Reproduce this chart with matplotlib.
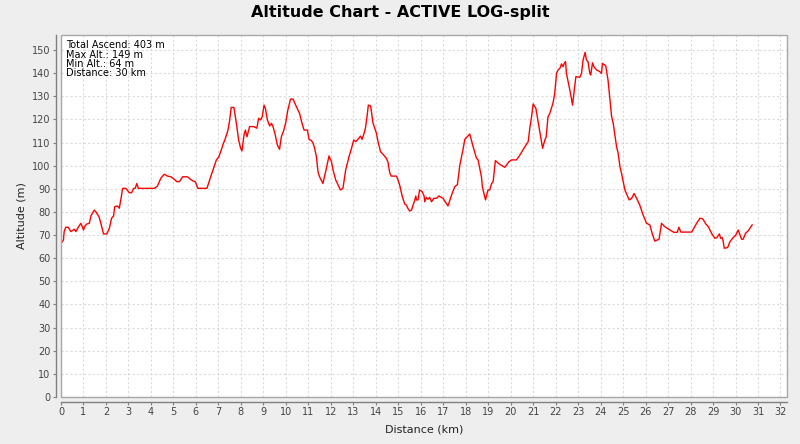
import matplotlib
matplotlib.use('Agg')
import matplotlib.pyplot as plt
from matplotlib.patches import Rectangle
import numpy as np

# profile (km, m)
dist = [0.00, 0.11, 0.14, 0.21, 0.32, 0.44, 0.59, 0.66, 0.77, 0.88, 0.96, 1.00, 1.06, 1.15, 1.26,
        1.33, 1.48, 1.55, 1.70, 1.80, 1.89, 2.04, 2.15, 2.25, 2.34, 2.39, 2.51, 2.59, 2.66, 2.74,
        2.88, 3.04, 3.14, 3.23, 3.30, 3.37, 3.44, 4.15, 4.29, 4.44, 4.59, 4.74, 4.89, 5.04, 5.15,
        5.27, 5.41, 5.62, 5.76, 5.87, 5.97, 6.09, 6.49, 6.61, 6.76, 6.91, 7.01, 7.13, 7.20, 7.31,
        7.42, 7.50, 7.57, 7.69, 7.80, 7.90, 7.99, 8.05, 8.14, 8.20, 8.27, 8.39, 8.58, 8.71, 8.79,
        8.88, 8.95, 9.03, 9.09, 9.18, 9.28, 9.36, 9.43, 9.53, 9.62, 9.72, 9.80, 9.90, 9.99, 10.09,
        10.21, 10.32, 10.47, 10.61, 10.72, 10.81, 10.96, 11.03, 11.13, 11.21, 11.28, 11.36, 11.43,
        11.50, 11.65, 11.77, 11.92, 12.03, 12.10, 12.22, 12.32, 12.43, 12.54, 12.66, 12.81, 12.92,
        13.02, 13.11, 13.21, 13.32, 13.39, 13.48, 13.54, 13.61, 13.67, 13.77, 13.88, 14.03, 14.10,
        14.21, 14.35, 14.47, 14.54, 14.62, 14.69, 14.92, 14.99, 15.06, 15.18, 15.29, 15.36, 15.43,
        15.51, 15.59, 15.66, 15.73, 15.78, 15.81, 15.88, 15.95, 16.06, 16.15, 16.18, 16.25, 16.32,
        16.40, 16.48, 16.58, 16.70, 16.81, 16.99, 17.21, 17.37, 17.51, 17.63, 17.74, 17.88, 17.96,
        18.18, 18.33, 18.48, 18.55, 18.70, 18.74, 18.88, 18.99, 19.07, 19.15, 19.22, 19.32, 19.51,
        19.74, 19.92, 20.04, 20.26, 20.41, 20.63, 20.78, 20.85, 20.93, 21.00, 21.12, 21.22, 21.33,
        21.42, 21.52, 21.58, 21.66, 21.74, 21.81, 21.88, 21.96, 22.04, 22.11, 22.19, 22.26, 22.33,
        22.38, 22.44, 22.48, 22.60, 22.70, 22.75, 22.85, 22.90, 23.07, 23.15, 23.22, 23.31, 23.37,
        23.44, 23.52, 23.56, 23.64, 23.70, 23.82, 23.96, 24.04, 24.08, 24.19, 24.23, 24.33, 24.49,
        24.56, 24.71, 24.78, 24.86, 24.93, 25.08, 25.27, 25.38, 25.49, 25.60, 25.74, 25.89, 26.04,
        26.19, 26.29, 26.41, 26.60, 26.71, 26.86, 27.08, 27.26, 27.41, 27.48, 27.57, 28.05, 28.27,
        28.42, 28.54, 28.68, 28.79, 28.94, 29.08, 29.17, 29.28, 29.34, 29.41, 29.45, 29.50, 29.65,
        29.75, 29.90, 30.00, 30.12, 30.27, 30.34, 30.45, 30.57, 30.74]
alt = [66.4, 67.9, 71.5, 73.4, 73.4, 71.5, 72.5, 71.5, 73.4, 75.1, 73.4, 72.2, 73.9, 74.8, 75.1,
       78.3, 80.8, 80.1, 77.7, 74.1, 70.5, 70.5, 72.9, 77.3, 78.3, 82.3, 82.6, 81.6, 85.2, 90.2,
       90.2, 88.3, 88.3, 90.2, 90.2, 92.3, 90.2, 90.2, 91.2, 94.6, 96.3, 95.5, 95.2, 94.1, 93.1,
       93.1, 95.2, 95.2, 94.1, 93.4, 93.1, 90.2, 90.2, 93.8, 98.1, 102.5, 103.6, 106.8, 109.0, 111.8,
       115.1, 119.5, 125.2, 125.2, 118.3, 111.1, 107.5, 106.4, 113.3, 115.4, 112.5, 116.9, 116.9, 116.2, 120.5,
       119.8, 121.2, 126.2, 124.8, 119.8, 117.2, 118.3, 116.9, 113.3, 109.0, 107.1, 112.5, 115.1, 118.3, 124.1,
       128.8, 128.8, 125.5, 122.6, 118.3, 115.4, 115.4, 111.4, 110.9, 109.8, 107.5, 103.9, 97.4,
       95.2, 92.3, 97.4, 104.2, 101.7, 98.1, 93.8, 91.7, 89.5, 90.2, 98.1, 103.9, 107.5,
       111.1, 110.4, 111.4, 112.8, 111.4, 114.0, 116.2, 121.2, 126.2, 125.8, 118.3, 114.0, 110.4,
       106.1, 104.6, 103.2, 101.7, 97.0, 95.5, 95.5, 93.8, 91.7, 86.6, 83.4, 83.0, 81.5,
       80.4, 80.8, 83.0, 84.9, 86.9, 85.2, 85.2, 89.5, 88.8, 86.9, 84.4, 86.3, 85.5,
       86.3, 84.4, 85.9, 85.9, 86.9, 85.9, 82.6, 87.3, 90.9, 91.8, 100.3, 107.0, 111.4,
       113.7, 108.2, 103.2, 102.5, 95.2, 90.9, 85.2, 89.5, 89.5, 92.3, 93.1, 102.2, 100.6,
       99.3, 101.7, 102.5, 102.5, 104.6, 108.2, 110.4, 116.2, 121.2, 126.7, 124.8, 119.0, 112.5,
       107.5, 111.1, 112.5, 121.2, 122.6, 124.8, 127.0, 131.3, 139.9, 141.4, 142.1, 144.0, 142.8,
       144.2, 145.0, 139.9, 134.2, 129.1, 126.2, 134.2, 138.5, 138.2, 139.9, 145.7, 149.0, 145.7,
       145.0, 139.9, 139.2, 144.5, 142.8, 141.4, 140.7, 139.9, 144.2, 143.5, 143.1, 137.0, 121.2,
       118.3, 108.2, 105.4, 99.6, 96.7, 89.5, 85.2, 85.9, 88.0, 85.9, 83.0, 78.7, 75.1,
       74.4, 70.8, 67.4, 68.2, 75.1, 73.6, 72.2, 71.2, 71.2, 73.4, 71.3, 71.3, 75.1,
       77.3, 77.0, 74.8, 73.6, 70.7, 68.6, 68.9, 70.5, 68.6, 68.9, 67.3, 64.3, 64.6,
       67.1, 69.0, 69.8, 72.2, 68.2, 68.2, 70.8, 71.9, 74.4]

stats = ['Total Ascend: 403 m', 'Max Alt.: 149 m', 'Min Alt.: 64 m', 'Distance: 30 km']

W, H = 800, 444
fig = plt.figure(figsize=(8, 4.44), dpi=100)
fig.patch.set_facecolor('#EEEEEE')

# plot area in pixels: x 61..787, y 35..397
ax = fig.add_axes([61 / W, (H - 397) / H, (787 - 61) / W, (397 - 35) / H])
ax.set_facecolor('white')

ax.plot(dist, alt, color='#FF0000', lw=1.0, zorder=3)

ax.set_xlim(0, 32.29)
ax.set_ylim(0, 156.5)
ax.set_xticks(np.arange(0, 33, 1))
ax.set_yticks(np.arange(0, 151, 10))

ax.grid(True, color='#DADADA', linestyle=(0, (2, 2)), linewidth=0.8)
ax.set_axisbelow(True)

for s in ['top', 'right']:
    ax.spines[s].set_visible(False)
for s in ['left', 'bottom']:
    ax.spines[s].set_position(('outward', 3.5))
    ax.spines[s].set_color('#808080')
    ax.spines[s].set_linewidth(1.0)
ax.add_patch(Rectangle((0, 0), 1, 1, transform=ax.transAxes, fill=False,
                       edgecolor='#A8A8A8', lw=1.0, clip_on=False, zorder=4))

ax.tick_params(axis='both', length=2, width=0.8, color='#808080', labelsize=7, labelcolor='#444444', pad=2)

ax.set_xlabel('Distance (km)', fontsize=8, color='#222222', labelpad=5)
ax.set_ylabel('Altitude (m)', fontsize=8, color='#222222', labelpad=4)

fig.text(0.5, 1 - 13 / H, 'Altitude Chart - ACTIVE LOG-split', ha='center', va='center',
         fontsize=11.5, fontweight='bold', color='black')

ax.text(0.0075, 0.985, '\n'.join(stats), transform=ax.transAxes, ha='left', va='top',
        fontsize=7, linespacing=0.9, color='black', zorder=5)

fig.savefig('out.png', dpi=100, facecolor=fig.get_facecolor())
